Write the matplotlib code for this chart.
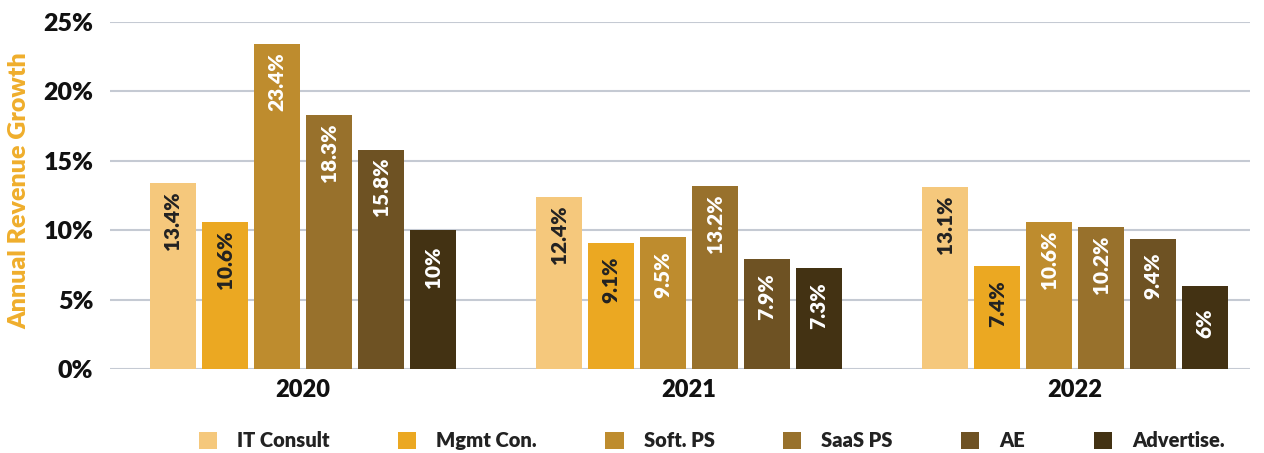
import matplotlib.pyplot as plt
import numpy as np

years = ["2020", "2021", "2022"]
series = ["IT Consult", "Mgmt Con.", "Soft. PS", "SaaS PS", "AE", "Advertise."]
values = [
    [13.4, 12.4, 13.1],
    [10.6, 9.1, 7.4],
    [23.4, 9.5, 10.6],
    [18.3, 13.2, 10.2],
    [15.8, 7.9, 9.4],
    [10.0, 7.3, 6.0],
]
labels = [
    ["13.4%", "12.4%", "13.1%"],
    ["10.6%", "9.1%", "7.4%"],
    ["23.4%", "9.5%", "10.6%"],
    ["18.3%", "13.2%", "10.2%"],
    ["15.8%", "7.9%", "9.4%"],
    ["10%", "7.3%", "6%"],
]
colors = ["#F5C87C", "#EBA822", "#BE8C2E", "#98712C", "#6E5223", "#433213"]
text_colors = ["#222222", "#222222", "white", "white", "white", "white"]

plt.rcParams['font.family'] = ['Lato', 'DejaVu Sans']

fig = plt.figure(figsize=(12.64, 4.53), dpi=100)
ax = fig.add_axes([0.087, 0.1854, 0.902, 0.766])

x = np.arange(len(years))
step = 0.1347
width = 0.119
for i, name in enumerate(series):
    pos = x + (i - 2.5) * step
    bars = ax.bar(pos, values[i], width, color=colors[i], label=name, zorder=3)
    for b, lab in zip(bars, labels[i]):
        h = b.get_height()
        ax.text(b.get_x() + b.get_width() / 2, h - 2.7, lab, rotation=90,
                ha='center', va='center', color=text_colors[i],
                fontsize=15, fontweight='heavy', zorder=4)

ax.set_ylim(0, 25)
ax.set_xlim(-0.5, 2.453)
ax.set_yticks([0, 5, 10, 15, 20, 25])
ax.set_yticklabels([f"{v}%" for v in [0, 5, 10, 15, 20, 25]],
                   fontsize=18, fontweight='heavy', color='#111111')
ax.set_xticks(x)
ax.set_xticklabels(years, fontsize=17, fontweight='heavy', color='#111111')
ax.tick_params(axis='both', length=0)
ax.tick_params(axis='y', pad=12)
ax.tick_params(axis='x', pad=7)
ax.grid(axis='y', color='#C5CAD3', linewidth=1.5, zorder=0)
for s in ax.spines.values():
    s.set_visible(False)

fig.text(0.015, 0.58, "Annual Revenue Growth", rotation=90, ha='center', va='center',
         fontsize=18, fontweight='heavy', color='#EFAE2C')

leg = fig.legend(loc='center', bbox_to_anchor=(0.563, 0.027), ncol=6, frameon=False,
                 handlelength=0.9, handleheight=0.9, handletextpad=1.0,
                 columnspacing=3.4, prop={'size': 14.5, 'weight': 'heavy'})
for t in leg.get_texts():
    t.set_color('#222222')

fig.savefig("out.png", dpi=100)
